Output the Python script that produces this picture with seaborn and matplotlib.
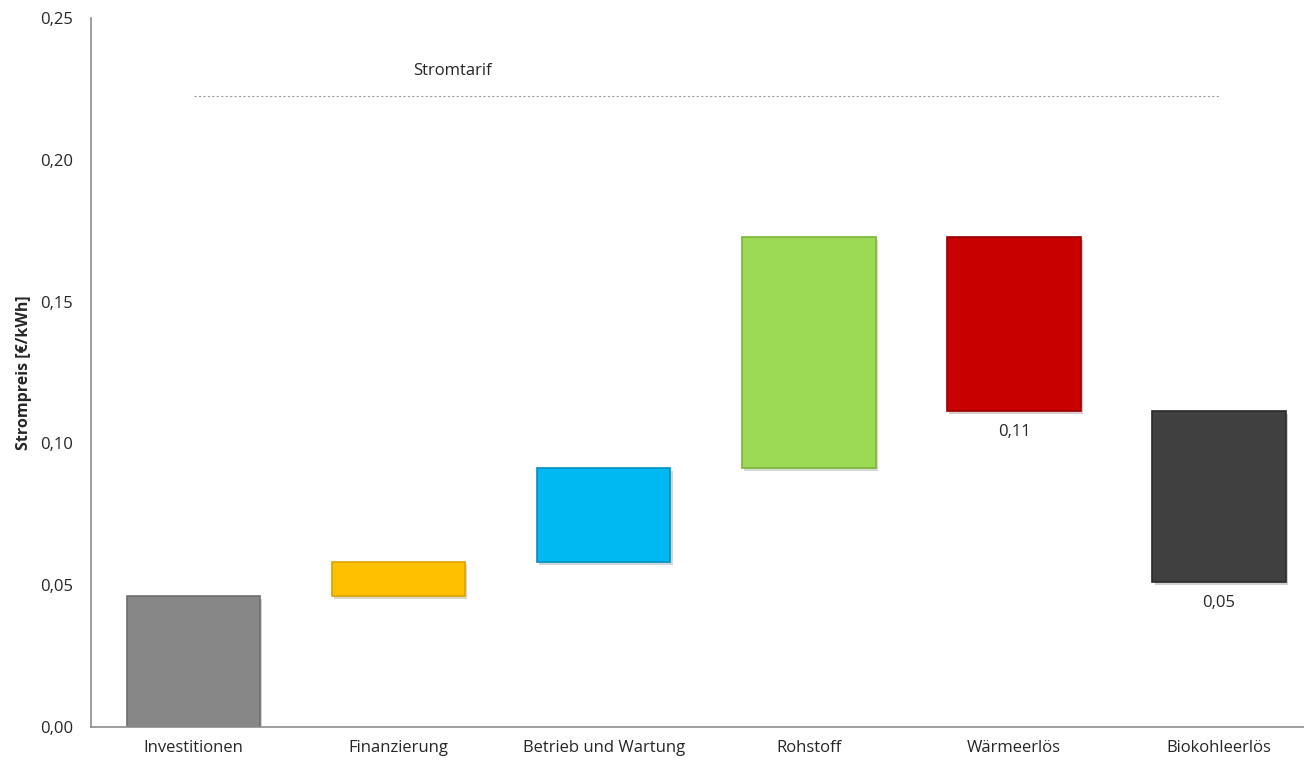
import numpy as np
import pandas as pd
import matplotlib
matplotlib.use("Agg")
import matplotlib.pyplot as plt
import matplotlib.patheffects as pe
import seaborn as sns

# Kostenaufbau Strompreis (Wasserfall)
kategorien = ["Investitionen", "Finanzierung", "Betrieb und Wartung",
              "Rohstoff", "Wärmeerlös", "Biokohleerlös"]
unten = [0.0, 0.0462, 0.0582, 0.0913, 0.1114, 0.0511]
oben = [0.0462, 0.0582, 0.0913, 0.1728, 0.1728, 0.1114]
farben = ["#878787", "#FFC000", "#00B9F2", "#9CD955", "#C80000", "#404040"]
kanten = ["#6e6e6e", "#d9a300", "#0090bd", "#7bb63a", "#960000", "#2a2a2a"]
stromtarif = 0.2225
wert_labels = {"Wärmeerlös": "0,11", "Biokohleerlös": "0,05"}

sns.set_style("white")
plt.rcParams['font.family'] = ['Open Sans', 'DejaVu Sans']

df = pd.DataFrame({"Kategorie": kategorien, "oben": oben, "unten": unten})

fig = plt.figure(figsize=(13.04, 7.66), dpi=100)
ax = fig.add_axes([0.0698, 0.0509, 0.9302, 0.9256])

sns.barplot(data=df, x="Kategorie", y="oben", ax=ax, width=0.65,
            color="#878787", saturation=1)

for patch, u, o, f, k in zip(ax.patches, unten, oben, farben, kanten):
    patch.set_y(u)
    patch.set_height(o - u)
    patch.set_facecolor(f)
    patch.set_edgecolor(k)
    patch.set_linewidth(1.2)
    patch.set_path_effects([pe.SimplePatchShadow(offset=(1.5, -2), alpha=0.2),
                            pe.Normal()])

# Stromtarif-Linie
ax.plot([0, len(kategorien) - 1], [stromtarif, stromtarif], ls=(0, (2, 2)),
        color="#a0a0a0", lw=0.8)
ax.text(1.26, 0.2313, "Stromtarif", fontsize=12, color="#262626",
        ha="center", va="center")

for i, k in enumerate(kategorien):
    if k in wert_labels:
        ax.text(i, unten[i] - 0.0045, wert_labels[k], fontsize=12,
                color="#262626", ha="center", va="top")

ax.set_ylim(0, 0.25)
ax.set_xlim(-0.5, 5.414)
ax.set_yticks(np.arange(0, 0.26, 0.05))
ax.set_yticklabels([f"{v:.2f}".replace(".", ",") for v in np.arange(0, 0.26, 0.05)])
ax.tick_params(axis="y", length=0, pad=13, labelsize=12, labelcolor="#262626")
ax.tick_params(axis="x", length=0, pad=9, labelsize=12, labelcolor="#262626")
ax.set_xlabel("")
ax.set_ylabel("Strompreis [€/kWh]", fontsize=11.5, fontweight="bold", labelpad=6)

for s in ["top", "right"]:
    ax.spines[s].set_visible(False)
for s in ["left", "bottom"]:
    ax.spines[s].set_color("#8c8c8c")
    ax.spines[s].set_linewidth(1.2)

fig.savefig("out.png", dpi=100)
